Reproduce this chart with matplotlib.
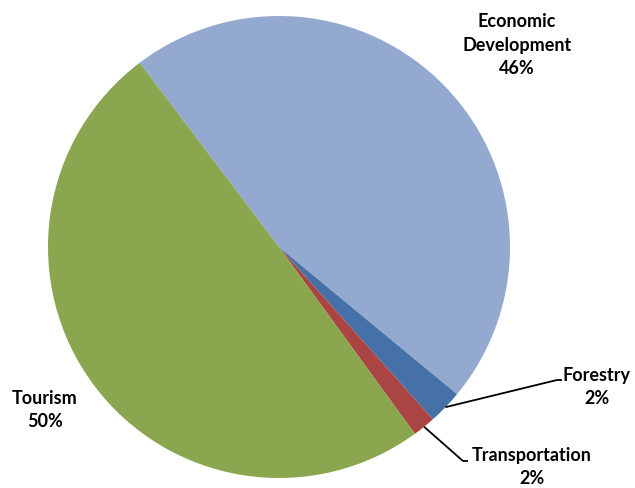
import numpy as np
import matplotlib
matplotlib.use("Agg")
import matplotlib.pyplot as plt

plt.rcParams['font.family'] = ['Lato', 'DejaVu Sans']

categories = ["Economic\nDevelopment", "Forestry", "Transportation", "Tourism"]
values = [46.3, 2.4, 1.6, 49.7]
colors = ["#94A9D0", "#4671A8", "#AA4543", "#8AA64F"]

# pixel-like data coords: 1 unit = 1 px
W, H = 635, 488
cx, cy, r = 279, H - 247, 231

fig = plt.figure(figsize=(W / 100, H / 100), dpi=100)
ax = fig.add_axes([0, 0, 1, 1])

wedges, _ = ax.pie(values, colors=colors, startangle=127.1, counterclock=False,
                   center=(cx, cy), radius=r, frame=True,
                   wedgeprops=dict(linewidth=0))
ax.set_xlim(0, W)
ax.set_ylim(0, H)
ax.set_aspect("equal")
ax.axis("off")

total = sum(values)
pct = [f"{round(v / total * 100):d}%" for v in values]
fkw = dict(fontsize=13, fontweight="bold", color="black", linespacing=1.45)

# Economic Development / Tourism labels
ax.text(517, H - 45, f"{categories[0]}\n{pct[0]}", ha="center", va="center", **fkw)
ax.text(45, H - 410, f"{categories[3]}\n{pct[3]}", ha="center", va="center", **fkw)

# small slices with leader lines
def edge_pt(w):
    a = np.deg2rad((w.theta1 + w.theta2) / 2)
    return cx + r * np.cos(a), cy + r * np.sin(a)

leaders = [(1, (557, H - 380), (562, H - 380), (597, H - 387)),
           (2, (463, H - 461), (468, H - 461), (532, H - 467))]
for i, p1, p2, tpos in leaders:
    x0, y0 = edge_pt(wedges[i])
    ax.plot([x0, p1[0], p2[0]], [y0, p1[1], p2[1]], color="black", lw=1.3,
            solid_capstyle="butt")
    ax.text(tpos[0], tpos[1], f"{categories[i]}\n{pct[i]}", ha="center", va="center", **fkw)

fig.savefig("out.png", dpi=100)
